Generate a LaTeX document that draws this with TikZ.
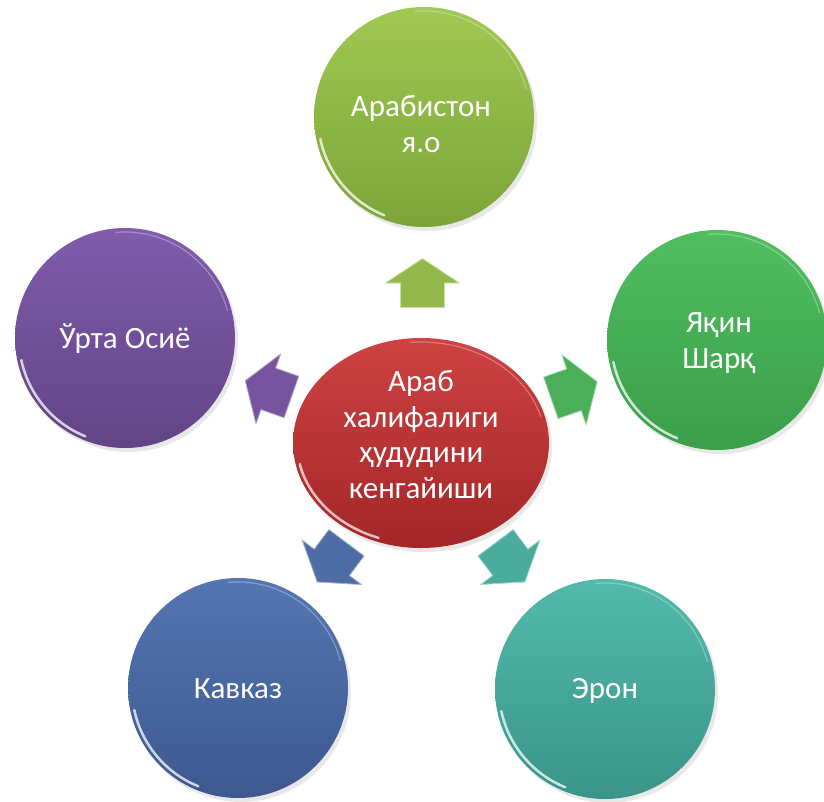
\documentclass[tikz,border=0pt]{standalone}
\usepackage{fontspec}
\setmainfont{Carlito}
\usetikzlibrary{calc,shadows,shapes.geometric}
\definecolor{redT}{RGB}{206,66,66}
\definecolor{redB}{RGB}{163,38,40}
\definecolor{oliT}{RGB}{160,200,82}
\definecolor{oliB}{RGB}{124,164,58}
\definecolor{grnT}{RGB}{80,190,96}
\definecolor{grnB}{RGB}{58,158,74}
\definecolor{tealT}{RGB}{82,186,170}
\definecolor{tealB}{RGB}{58,148,138}
\definecolor{bluT}{RGB}{84,118,178}
\definecolor{bluB}{RGB}{62,88,144}
\definecolor{purT}{RGB}{128,92,172}
\definecolor{purB}{RGB}{98,68,134}
\newcommand\myrim[2]{%
  \draw[white, line width=2.5pt, opacity=0.75, line cap=round]
    ($(#1.center)+(192:#2)$) arc[start angle=192, end angle=248, radius=#2];
  \draw[white, line width=1.2pt, opacity=0.3, line cap=round]
    ($(#1.center)+(15:#2)$) arc[start angle=15, end angle=95, radius=#2];
}
\begin{document}
\begin{tikzpicture}[x=1pt,y=1pt,
  ball/.style={circle, inner sep=0pt, minimum size=220pt,
    drop shadow={opacity=0.18, shadow xshift=3pt, shadow yshift=-4pt}},
  lbl/.style={text=white, align=center, anchor=base,
    font=\fontsize{31}{35.5}\selectfont},
  barrow/.pic={\path[pic actions] (-24.5,-22) -- (0,-22) -- (0,-37) -- (24.5,0)
     -- (0,37) -- (0,22) -- (-24.5,22) -- cycle;},
  arr/.style={line width=0.8pt, line join=round,
    drop shadow={opacity=0.15, shadow xshift=2pt, shadow yshift=-2pt}}
]
\useasboundingbox (0,0) rectangle (824,-801);
\fill[white] (0,0) rectangle (824,-801);

% outer circles
\node[ball, top color=oliT, bottom color=oliB] (A) at (424,-117) {};
\node[ball, top color=grnT, bottom color=grnB] (R) at (717,-340) {};
\node[ball, top color=purT, bottom color=purB] (L) at (125,-338) {};
\node[ball, top color=bluT, bottom color=bluB] (K) at (238,-688) {};
\node[ball, top color=tealT, bottom color=tealB] (E) at (605,-689) {};
\myrim{A}{106pt}
\myrim{R}{106pt}
\myrim{L}{106pt}
\myrim{K}{106pt}
\myrim{E}{106pt}

% centre ellipse
\node[ellipse, inner sep=0pt, minimum width=256pt, minimum height=210pt,
  top color=redT, bottom color=redB,
  drop shadow={opacity=0.18, shadow xshift=3pt, shadow yshift=-4pt}] (C) at (421,-443) {};
\draw[white, line width=2.5pt, opacity=0.7, line cap=round]
  ($(C.center)+({124*cos(192)},{101*sin(192)})$)
  arc[start angle=192, end angle=250, x radius=124pt, y radius=101pt];
\draw[white, line width=1.2pt, opacity=0.3, line cap=round]
  ($(C.center)+({124*cos(15)},{101*sin(15)})$)
  arc[start angle=15, end angle=95, x radius=124pt, y radius=101pt];

% block arrows
\pic[arr, rotate=90, fill=oliT!92!black, draw=oliT!55!white] at ($(C)!160pt!(A)$) {barrow};
\pic[arr, rotate=19.2, fill=grnT!92!black, draw=grnT!55!white] at ($(C)!162pt!(R)$) {barrow};
\pic[arr, rotate=160.5, fill=purT!92!black, draw=purT!55!white] at ($(C)!162pt!(L)$) {barrow};
\pic[arr, rotate=233.2, fill=bluT!92!black, draw=bluT!55!white] at ($(C)!149pt!(K)$) {barrow};
\pic[arr, rotate=306.8, fill=tealT!92!black, draw=tealT!55!white] at ($(C)!149pt!(E)$) {barrow};

% labels (anchor=base is the baseline of the last line)
\node[lbl] (tC) at (421,-498) {Араб\\халифалиги\\ҳудудини\\кенгайиши};
\node[lbl] (tA) at (421,-152) {Арабистон\\я.о};
\node[lbl] (tR) at (719,-368) {Яқин\\Шарқ};
\node[lbl] (tL) at (125,-348) {Ўрта Осиё};
\node[lbl] (tK) at (238,-698) {Кавказ};
\node[lbl] (tE) at (605,-698) {Эрон};
\end{tikzpicture}
\end{document}
